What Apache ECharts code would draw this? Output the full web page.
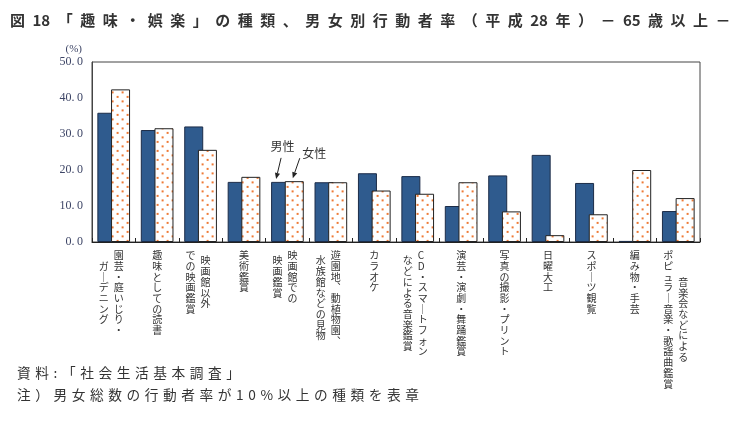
<!DOCTYPE html>
<html><head><meta charset="utf-8">
<script src="https://cdn.jsdelivr.net/npm/echarts@6/dist/echarts.min.js"></script>
<style>html,body{margin:0;padding:0;background:#fff}#c{width:750px;height:430px}</style>
</head><body><div id="c"></div>
<script>
const categories = ['園芸・庭いじり・ガーデニング','趣味としての読書','映画館以外での映画鑑賞','美術鑑賞','映画館での映画鑑賞','遊園地、動植物園、水族館などの見物','カラオケ','CD・スマートフォンなどによる音楽鑑賞','演芸・演劇・舞踊鑑賞','写真の撮影・プリント','日曜大工','スポーツ観覧','編み物・手芸','音楽会などによるポピュラー音楽・歌謡曲鑑賞'];
const labelColumns = [
  ['園芸・庭いじり・','ガーデニング'],
  ['趣味としての読書'],
  ['映画館以外','での映画鑑賞'],
  ['美術鑑賞'],
  ['映画館での','映画鑑賞'],
  ['遊園地、動植物園、','水族館などの見物'],
  ['カラオケ'],
  ['CD・スマートフォン','などによる音楽鑑賞'],
  ['演芸・演劇・舞踊鑑賞'],
  ['写真の撮影・プリント'],
  ['日曜大工'],
  ['スポーツ観覧'],
  ['編み物・手芸'],
  ['音楽会などによる','ポピュラー音楽・歌謡曲鑑賞']
];
const maleValues = [35.9, 31.1, 32.1, 16.7, 16.7, 16.6, 19.1, 18.3, 10.0, 18.5, 24.2, 16.4, 0.3, 8.6];
const femaleValues = [42.4, 31.6, 25.6, 18.1, 16.9, 16.6, 14.3, 13.4, 16.6, 8.5, 1.9, 7.7, 20.0, 12.2];
const yTicks = [0, 10, 20, 30, 40, 50];
const seriesNames = ['男性', '女性'];
const titleText = '図 18　「趣味・娯楽」の種類、男女別行動者率（平成 28 年）－65 歳以上－';
const sourceText = '資料 :「社会生活基本調査」';
const noteText = '注）男女総数の行動者率が10%以上の種類を表章';
const unitText = '(%)';
const annotateIndex = 4;

const JP = '"Noto Sans CJK JP", "Noto Sans", sans-serif';
const vmap = {'ー': '｜', '、': '︑', '－': '｜'};
function vert(s) { return Array.from(s).map(c => vmap[c] || c).join('\n'); }
function padded(s, maxLen) {
  const k = (maxLen - Array.from(s).length) / 2;
  const n = Math.floor(k);
  let pre = '';
  for (let i = 0; i < n; i++) pre += '　\n';
  if (k - n > 0.1) pre += '{h| }\n';
  return pre + vert(s);
}
function maxLenOf(cols) { return Math.max(...cols.map(c => Array.from(c).length)); }
// spread the glyphs out; whitespace is replaced by the spacer, digit runs may stay tight
function spaced(s, sp, tightDigits) {
  const a = Array.from(s).filter(c => !/\s|　/.test(c));
  let out = a[0];
  for (let i = 1; i < a.length; i++) {
    const tight = tightDigits && /[0-9]/.test(a[i - 1]) && /[0-9]/.test(a[i]);
    out += (tight ? '' : sp) + a[i];
  }
  return out;
}

const pc = document.createElement('canvas');
pc.width = 10; pc.height = 9;
const g = pc.getContext('2d');
g.fillStyle = '#ffffff'; g.fillRect(0, 0, 10, 9);
g.fillStyle = '#ee7a36';
g.fillRect(1.6, 1.4, 2, 2);
g.fillRect(6.6, 5.9, 2, 2);

const labelBase = {
  interval: 0, fontFamily: JP, fontSize: 10, lineHeight: 10.7, color: '#333',
  margin: 8, verticalAlign: 'top', rich: { h: { lineHeight: 5.35, fontSize: 1 } }
};
const chart = echarts.init(document.getElementById('c'), null, { renderer: 'canvas' });
const option = {
  backgroundColor: '#fff',
  animation: false,
  grid: { left: 92, right: 50, top: 62, bottom: 188, show: true, borderColor: '#444', borderWidth: 1, backgroundColor: 'transparent' },
  xAxis: [
    {
      type: 'category', data: categories, position: 'bottom',
      axisLine: { show: true, lineStyle: { color: '#222', width: 1 } },
      axisTick: { show: true, inside: true, length: 4, interval: 0, lineStyle: { color: '#222' } },
      axisLabel: Object.assign({}, labelBase, {
        align: 'center',
        formatter: (v, i) => labelColumns[i].length === 1 ? vert(labelColumns[i][0]) : ''
      })
    },
    {
      type: 'category', data: categories, position: 'bottom',
      axisLine: { show: false }, axisTick: { show: false }, splitLine: { show: false },
      axisLabel: Object.assign({}, labelBase, {
        align: 'left', padding: [0, 0, 0, 0],
        formatter: (v, i) => labelColumns[i].length === 2 ? padded(labelColumns[i][0], maxLenOf(labelColumns[i])) : ''
      })
    },
    {
      type: 'category', data: categories, position: 'bottom',
      axisLine: { show: false }, axisTick: { show: false }, splitLine: { show: false },
      axisLabel: Object.assign({}, labelBase, {
        align: 'right', padding: [0, 5, 0, 0],
        formatter: (v, i) => labelColumns[i].length === 2 ? padded(labelColumns[i][1], maxLenOf(labelColumns[i])) : ''
      })
    }
  ],
  yAxis: {
    type: 'value', min: yTicks[0], max: yTicks[yTicks.length - 1], interval: yTicks[1] - yTicks[0],
    name: unitText, nameLocation: 'end', nameGap: 7,
    nameTextStyle: { fontFamily: '"Liberation Serif", serif', fontSize: 11, color: '#3d4566', align: 'right', verticalAlign: 'bottom', padding: [0, 10, 0, 0] },
    axisLine: { show: true, lineStyle: { color: '#444' } },
    axisTick: { show: false },
    splitLine: { show: false },
    axisLabel: {
      fontFamily: '"Liberation Serif", serif', fontSize: 12, color: '#3d4566', margin: 9,
      formatter: v => v.toFixed(1).replace('.', '.\u2009')
    }
  },
  series: [
    {
      name: seriesNames[0], type: 'bar', data: maleValues, barWidth: 19, barGap: '-28%',
      itemStyle: { color: '#2f5b8e', borderColor: '#1c2c48', borderWidth: 1 }
    },
    {
      name: seriesNames[1], type: 'bar', data: femaleValues, barWidth: 19,
      itemStyle: { color: { image: pc, repeat: 'repeat' }, borderColor: '#222', borderWidth: 1 }
    }
  ]
};
chart.setOption(option);

function arrow(tail, tip) {
  const ang = Math.atan2(tip[1] - tail[1], tip[0] - tail[0]);
  const L = 6, W = 2.6;
  const bx = tip[0] - L * Math.cos(ang), by = tip[1] - L * Math.sin(ang);
  const px = -Math.sin(ang) * W, py = Math.cos(ang) * W;
  return [
    { type: 'line', shape: { x1: tail[0], y1: tail[1], x2: bx, y2: by }, style: { stroke: '#222', lineWidth: 1 } },
    { type: 'polygon', shape: { points: [[tip[0], tip[1]], [bx + px, by + py], [bx - px, by - py]] }, style: { fill: '#222' } }
  ];
}
const model = chart.getModel();
const lm = model.getSeriesByIndex(0).getData().getItemLayout(annotateIndex);
const lf = model.getSeriesByIndex(1).getData().getItemLayout(annotateIndex);
const mcx = lm.x + lm.width / 2, mtop = lm.y + lm.height;
const fcx = lf.x + lf.width / 2, ftop = lf.y + lf.height;
const graphics = [
  { type: 'text', left: 10, top: 13, style: { text: spaced(titleText, '\u2002', true), font: 'bold 15px ' + JP, fill: '#333' } },
  { type: 'text', left: 17, top: 366, style: { text: spaced(sourceText, '\u2004', false), font: '13.7px ' + JP, fill: '#333' } },
  { type: 'text', left: 17, top: 388, style: { text: spaced(noteText, '\u2004', false), font: '13.7px ' + JP, fill: '#333' } },
  { type: 'text', x: mcx + 2, y: mtop - 35, style: { text: seriesNames[0], font: '12px ' + JP, fill: '#333', align: 'center', verticalAlign: 'middle' } },
  { type: 'text', x: fcx + 20, y: ftop - 28, style: { text: seriesNames[1], font: '12px ' + JP, fill: '#333', align: 'center', verticalAlign: 'middle' } }
].concat(arrow([mcx + 0.5, mtop - 24], [mcx - 4.5, mtop - 3]))
 .concat(arrow([fcx + 5.5, ftop - 23], [fcx - 1.5, ftop - 3]));
chart.setOption({ graphic: graphics });
</script>
</body></html>
